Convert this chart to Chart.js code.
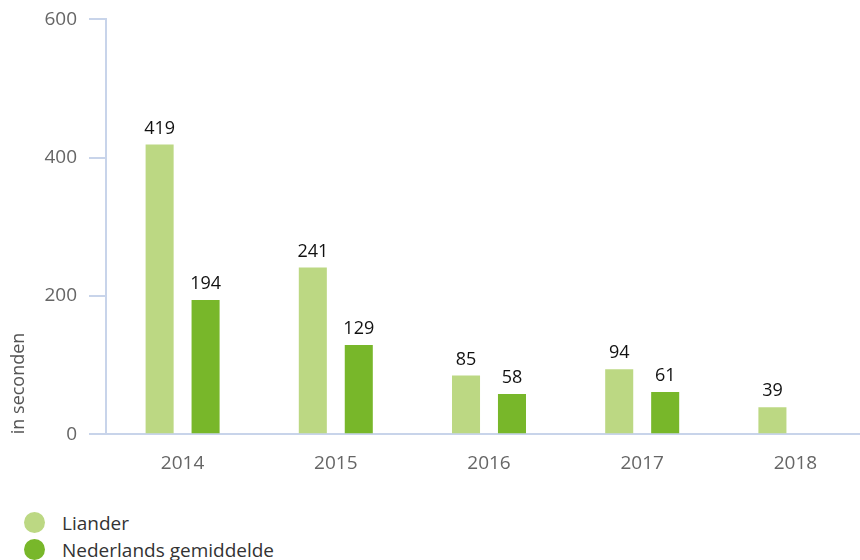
<!DOCTYPE html>
<html>
<head>
<meta charset="utf-8">
<script src="https://cdn.jsdelivr.net/npm/chart.js@4/dist/chart.umd.min.js"></script>
<style>
  body { margin: 0; background: #fff; font-family: "Open Sans", sans-serif; overflow: hidden; }
  #wrap { position: relative; width: 872px; height: 489px; margin-top: -4px; }
  #legend { position: absolute; left: 24px; top: 509px; font-size: 19px; color: #333; }
  #legend div { display: flex; align-items: center; height: 27px; }
  #legend span.dot { width: 21px; height: 21px; border-radius: 50%; display: inline-block; margin-right: 17px; }
</style>
</head>
<body>
<div id="wrap"><canvas id="chart"></canvas></div>
<div id="legend"></div>
<script>
const years = ["2014", "2015", "2016", "2017", "2018"];
const liander = [419, 241, 85, 94, 39];
const nederland = [194, 129, 58, 61, null];
const seriesNames = ["Liander", "Nederlands gemiddelde"];
const seriesColors = ["#bcd883", "#78b72a"];
const yTicks = [0, 200, 400, 600];

const axisColor = '#c8d4ea';
const fontFam = '"Open Sans", sans-serif';

// waarden boven de staven
const valueLabels = {
    id: 'valueLabels',
    afterDatasetsDraw(chart) {
        const ctx = chart.ctx;
        ctx.save();
        ctx.fillStyle = '#111';
        ctx.font = '18px ' + fontFam;
        ctx.textAlign = 'center';
        ctx.textBaseline = 'bottom';
        chart.data.datasets.forEach(function (ds, i) {
            chart.getDatasetMeta(i).data.forEach(function (bar, j) {
                if (ds.data[j] == null) return;
                ctx.fillText(ds.data[j], bar.x, bar.y - 7);
            });
        });
        ctx.restore();
    }
};

new Chart("chart", {
    type: "bar",
    data: {
        labels: years,
        datasets: [
            { label: seriesNames[0], data: liander, backgroundColor: seriesColors[0] },
            { label: seriesNames[1], data: nederland, backgroundColor: seriesColors[1] }
        ]
    },
    options: {
        responsive: true,
        maintainAspectRatio: false,
        animation: false,
        categoryPercentage: 0.6,
        barPercentage: 0.61,
        layout: { padding: { top: 2, left: 8, right: 0, bottom: 0 } },
        plugins: {
            legend: { display: false },
            tooltip: { enabled: false }
        },
        scales: {
            x: {
                grid: { display: false },
                border: { color: axisColor, width: 2 },
                ticks: { color: '#666', font: { size: 19, family: fontFam }, padding: 10 }
            },
            y: {
                min: 0,
                max: 600,
                afterBuildTicks: function (scale) {
                    scale.ticks = yTicks.map(function (v) { return { value: v }; });
                },
                afterFit: function (scale) { scale.width = 98; },
                grid: { drawOnChartArea: false, color: axisColor, tickLength: 17, lineWidth: 2 },
                border: { color: axisColor, width: 2 },
                ticks: { color: '#666', font: { size: 19, family: fontFam }, padding: 12 },
                title: {
                    display: true,
                    text: 'in seconden',
                    align: 'start',
                    color: '#555',
                    font: { size: 18, family: fontFam },
                    padding: { top: 0, bottom: 4 }
                }
            }
        }
    },
    plugins: [valueLabels]
});

// legenda
const legendEl = document.getElementById('legend');
seriesNames.forEach(function (name, i) {
    const row = document.createElement('div');
    row.innerHTML = '<span class="dot" style="background:' + seriesColors[i] + '"></span>' + name;
    legendEl.appendChild(row);
});
</script>
</body>
</html>
